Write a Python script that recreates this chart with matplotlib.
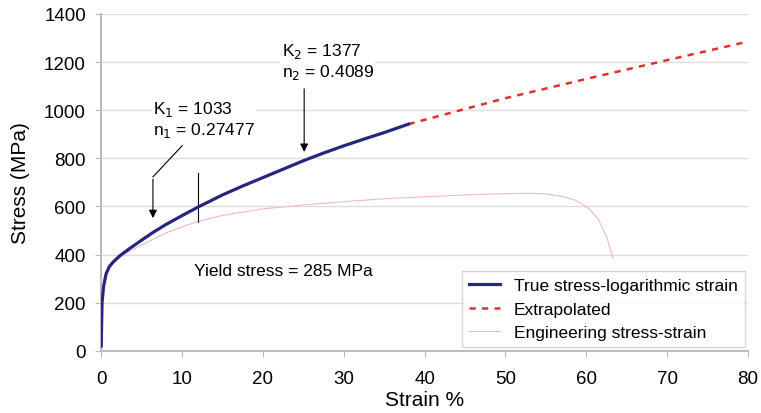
import numpy as np
import matplotlib.pyplot as plt

plt.rcParams["font.family"] = ["Liberation Sans", "DejaVu Sans"]

# True stress - logarithmic strain
true_strain = [0, 0.1, 0.3, 0.6, 1, 1.5, 2.3, 3.5, 5, 6.4, 8, 10, 12, 15, 17.5, 20, 22.5, 25,
               27.5, 30, 32.5, 35, 38]
true_stress = [20, 200, 270, 320, 350, 370, 395, 425, 460, 492, 525, 562, 598, 648, 685, 720, 755, 790,
               822, 852, 880, 907, 942]

# Extrapolated part
extra_strain = [38, 40, 50, 60, 70, 80]
extra_stress = [942, 960, 1050, 1130, 1208, 1285]

# Engineering stress - strain
eng_strain = [0, 0.1, 0.3, 0.6, 1, 1.5, 2, 3, 5, 8, 10, 12, 15, 20, 25, 30, 35, 40, 45, 50, 53,
              55, 57, 58.5, 59.5, 60.5, 61.5, 62.5, 63.3]
eng_stress = [20, 200, 265, 318, 345, 365, 380, 405, 440, 490, 515, 538, 563, 590, 606, 620, 632,
              640, 648, 653, 655, 652, 642, 628, 610, 585, 545, 475, 385]

fig = plt.figure(figsize=(7.61, 4.14), dpi=100)
ax = fig.add_axes([0.133, 0.150, 0.850, 0.814])

ax.plot(true_strain, true_stress, color="#262680", lw=2.3, label="True stress-logarithmic strain",
        zorder=4, solid_joinstyle="round")
ax.plot(extra_strain, extra_stress, color="#e03030", lw=1.8, ls=(0, (2.5, 2.5)), label="Extrapolated", zorder=3)
ax.plot(eng_strain, eng_stress, color="#f2b8c6", lw=0.8, label="Engineering stress-strain", zorder=2)

ax.set_xlim(0, 80)
ax.set_ylim(0, 1400)
ax.set_xticks(range(0, 81, 10))
ax.set_yticks(range(0, 1401, 200))
ax.grid(axis="y", color="#dddddd", lw=1)
ax.set_axisbelow(True)
for side in ["top", "right"]:
    ax.spines[side].set_visible(False)
for side in ["left", "bottom"]:
    ax.spines[side].set_color("#bbbbbb")
    ax.spines[side].set_linewidth(1.5)
ax.tick_params(colors="#bbbbbb", labelcolor="black", labelsize=13.5, length=4)
ax.tick_params(axis="x", pad=10)
ax.tick_params(axis="y", pad=7)
ax.set_xlabel("Strain %", fontsize=15, labelpad=2)
ax.set_ylabel("Stress (MPa)", fontsize=15, labelpad=10)

# annotations
box = dict(facecolor="white", edgecolor="none", pad=1)
ax.text(6.4, 964, "K$_1$ = 1033\nn$_1$ = 0.27477", fontsize=12.5, va="center", ha="left",
        linespacing=1.1, bbox=box, zorder=5)
ax.plot([10.0, 6.4], [852, 723], color="black", lw=0.8)
ax.annotate("", xy=(6.4, 540), xytext=(6.4, 725),
            arrowprops=dict(arrowstyle="-|>", color="black", lw=0.8, mutation_scale=12))
ax.plot([12.0, 12.0], [536, 740], color="black", lw=0.8)

ax.text(22.3, 1205, "K$_2$ = 1377\nn$_2$ = 0.4089", fontsize=12.5, va="center", ha="left",
        linespacing=1.1, bbox=box, zorder=5)
ax.annotate("", xy=(25.1, 815), xytext=(25.1, 1100),
            arrowprops=dict(arrowstyle="-|>", color="black", lw=0.8, mutation_scale=12))

ax.text(11.5, 333, "Yield stress = 285 MPa", fontsize=12.5, va="center", ha="left")

leg = ax.legend(loc="lower right", fontsize=12.5, frameon=True, fancybox=False,
                borderaxespad=0.2, handlelength=1.8, labelspacing=0.5)
leg.get_frame().set_edgecolor("#cccccc")
leg.get_frame().set_linewidth(1)

plt.savefig("out.png", dpi=100)
